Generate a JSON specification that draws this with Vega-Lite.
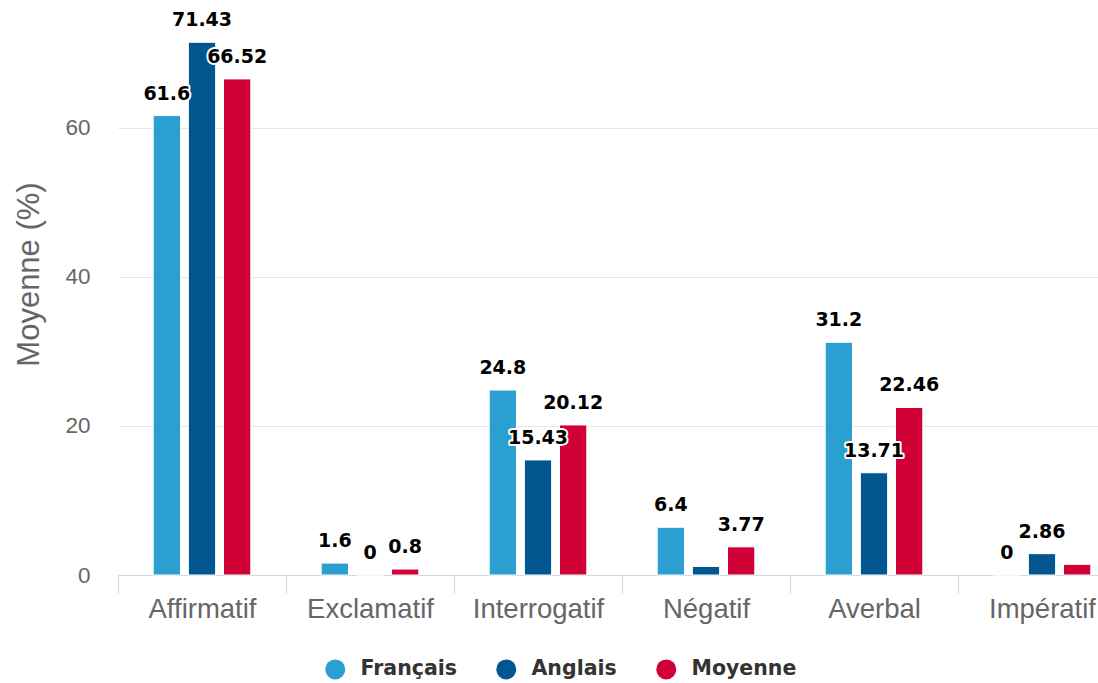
{
  "$schema": "https://vega.github.io/schema/vega-lite/v6.json",
  "width": 980,
  "height": 575,
  "autosize": {"type": "none"},
  "padding": {"left": 118, "top": 0, "right": 0, "bottom": 108},
  "background": "white",
  "config": {"view": {"stroke": null}},
  "data": {
    "values": [
      {"cat": "Affirmatif", "serie": "Français", "value": 61.6},
      {"cat": "Affirmatif", "serie": "Anglais", "value": 71.43},
      {"cat": "Affirmatif", "serie": "Moyenne", "value": 66.52},
      {"cat": "Exclamatif", "serie": "Français", "value": 1.6},
      {"cat": "Exclamatif", "serie": "Anglais", "value": 0},
      {"cat": "Exclamatif", "serie": "Moyenne", "value": 0.8},
      {"cat": "Interrogatif", "serie": "Français", "value": 24.8},
      {"cat": "Interrogatif", "serie": "Anglais", "value": 15.43},
      {"cat": "Interrogatif", "serie": "Moyenne", "value": 20.12},
      {"cat": "Négatif", "serie": "Français", "value": 6.4},
      {"cat": "Négatif", "serie": "Anglais", "value": 1.14},
      {"cat": "Négatif", "serie": "Moyenne", "value": 3.77},
      {"cat": "Averbal", "serie": "Français", "value": 31.2},
      {"cat": "Averbal", "serie": "Anglais", "value": 13.71},
      {"cat": "Averbal", "serie": "Moyenne", "value": 22.46},
      {"cat": "Impératif", "serie": "Français", "value": 0},
      {"cat": "Impératif", "serie": "Anglais", "value": 2.86},
      {"cat": "Impératif", "serie": "Moyenne", "value": 1.43}
    ]
  },
  "encoding": {
    "x": {
      "field": "cat",
      "type": "nominal",
      "sort": null,
      "scale": {"paddingInner": 0, "paddingOuter": 0, "range": [0, 1008]},
      "axis": {
        "title": null,
        "labelAngle": 0,
        "labelFont": "Liberation Sans",
        "labelFontSize": 27.5,
        "labelColor": "#666666",
        "labelBaseline": "alphabetic",
        "labelPadding": 24,
        "tickBand": "extent",
        "tickSize": 18,
        "tickColor": "#ccd6eb",
        "tickWidth": 1,
        "domainColor": "#ccd6eb",
        "domainWidth": 1,
        "grid": false
      }
    },
    "xOffset": {
      "field": "serie",
      "type": "nominal",
      "sort": ["Français", "Anglais", "Moyenne"],
      "scale": {"paddingInner": 0.224, "paddingOuter": 1.12}
    },
    "y": {
      "field": "value",
      "type": "quantitative",
      "scale": {"domain": [0, 77.1], "nice": false, "zero": true},
      "axis": {
        "title": "Moyenne (%)",
        "titleFont": "Liberation Sans",
        "titleFontSize": 31,
        "titleFontWeight": "normal",
        "titleColor": "#666666",
        "titleAngle": -90,
        "titleX": -89,
        "titleY": 274,
        "titleAlign": "center",
        "titleBaseline": "middle",
        "values": [0, 20, 40, 60],
        "labelFont": "Liberation Sans",
        "labelFontSize": 22.5,
        "labelColor": "#666666",
        "labelPadding": 28,
        "ticks": false,
        "tickSize": 0,
        "domain": false,
        "grid": true,
        "gridColor": "#e6e6e6",
        "gridWidth": 1
      }
    }
  },
  "layer": [
    {
      "mark": {"type": "bar", "stroke": "white", "strokeWidth": 1},
      "encoding": {
        "color": {
          "field": "serie",
          "type": "nominal",
          "sort": ["Français", "Anglais", "Moyenne"],
          "scale": {"domain": ["Français", "Anglais", "Moyenne"], "range": ["#2a9fd0", "#01568f", "#d10036"]},
          "legend": {
            "title": null,
            "orient": "none",
            "direction": "horizontal",
            "legendX": 207,
            "legendY": 659,
            "symbolType": "circle",
            "symbolSize": 400,
            "symbolStrokeWidth": 0,
            "labelFont": "DejaVu Sans",
            "labelFontWeight": "bold",
            "labelFontSize": 20.5,
            "labelColor": "#333333",
            "labelOffset": 15,
            "columnPadding": 39
          }
        }
      }
    },
    {
      "transform": [{"filter": "!(datum.cat == 'Négatif' && datum.serie == 'Anglais') && !(datum.cat == 'Impératif' && datum.serie == 'Moyenne')"}],
      "mark": {"type": "text", "font": "DejaVu Sans", "fontWeight": "bold", "fontSize": 19, "baseline": "alphabetic", "dy": -16, "stroke": "white", "strokeWidth": 4, "strokeJoin": "round", "fill": "white"},
      "encoding": {"text": {"field": "value", "type": "quantitative"}}
    },
    {
      "transform": [{"filter": "!(datum.cat == 'Négatif' && datum.serie == 'Anglais') && !(datum.cat == 'Impératif' && datum.serie == 'Moyenne')"}],
      "mark": {"type": "text", "font": "DejaVu Sans", "fontWeight": "bold", "fontSize": 19, "baseline": "alphabetic", "dy": -16, "fill": "#000000"},
      "encoding": {"text": {"field": "value", "type": "quantitative"}}
    }
  ]
}
